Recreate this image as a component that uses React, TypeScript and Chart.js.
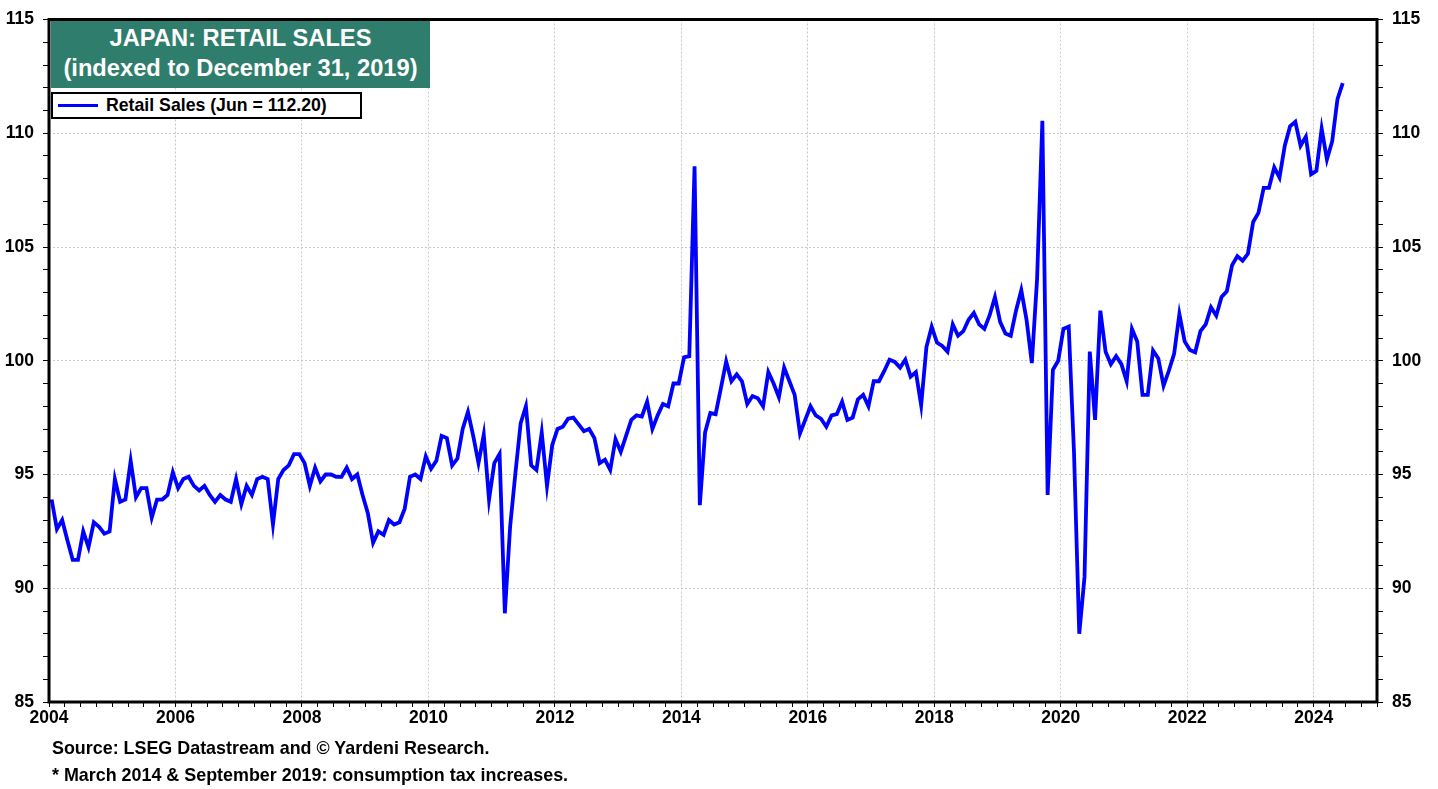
import React, { useEffect, useRef } from "react";
import { Chart, registerables } from "chart.js";

Chart.register(...registerables);

// ---- Data (monthly, Jan 2004 – Jun 2024), index, Dec 31 2019 = 100 ----
const startYear = 2004;
const sales2004 = [93.9, 92.6, 93.0, 92.1, 91.25, 91.25, 92.5, 91.8, 92.9, 92.7, 92.4, 92.5];
const sales2005 = [94.8, 93.8, 93.9, 95.6, 94.0, 94.4, 94.4, 93.1, 93.9, 93.9, 94.1, 95.1];
const sales2006 = [94.4, 94.8, 94.9, 94.5, 94.3, 94.5, 94.1, 93.8, 94.1, 93.9, 93.8, 94.8];
const sales2007 = [93.7, 94.5, 94.1, 94.8, 94.9, 94.8, 92.8, 94.8, 95.2, 95.4, 95.9, 95.9];
const sales2008 = [95.5, 94.5, 95.3, 94.7, 95.0, 95.0, 94.9, 94.9, 95.3, 94.8, 95.0, 94.1];
const sales2009 = [93.3, 92.0, 92.5, 92.35, 93.0, 92.8, 92.9, 93.5, 94.9, 95.0, 94.8, 95.8];
const sales2010 = [95.25, 95.6, 96.7, 96.6, 95.4, 95.7, 97.0, 97.75, 96.7, 95.5, 96.75, 93.9];
const sales2011 = [95.5, 95.9, 88.9, 92.7, 95.05, 97.25, 98.0, 95.4, 95.2, 96.85, 94.5, 96.3];
const sales2012 = [97.0, 97.1, 97.45, 97.5, 97.2, 96.9, 97.0, 96.6, 95.5, 95.65, 95.2, 96.55];
const sales2013 = [96.0, 96.7, 97.4, 97.6, 97.55, 98.2, 97.0, 97.6, 98.1, 98.0, 99.0, 99.0];
const sales2014 = [100.15, 100.2, 108.55, 93.65, 96.85, 97.7, 97.65, 98.8, 99.97, 99.1, 99.4, 99.1];
const sales2015 = [98.1, 98.45, 98.35, 98.0, 99.5, 99.0, 98.4, 99.7, 99.1, 98.5, 96.8, 97.4];
const sales2016 = [98.0, 97.6, 97.45, 97.1, 97.6, 97.65, 98.2, 97.4, 97.5, 98.3, 98.5, 98.0];
const sales2017 = [99.1, 99.1, 99.55, 100.05, 99.95, 99.7, 100.05, 99.3, 99.5, 98.05, 100.6, 101.5];
const sales2018 = [100.8, 100.65, 100.4, 101.6, 101.1, 101.3, 101.8, 102.1, 101.6, 101.4, 102.0, 102.8];
const sales2019 = [101.7, 101.2, 101.1, 102.2, 103.1, 101.8, 99.9, 103.6, 110.55, 94.1, 99.6, 100.0];
const sales2020 = [101.4, 101.5, 96.0, 88.0, 90.5, 100.4, 97.4, 102.2, 100.4, 99.85, 100.2, 99.85];
const sales2021 = [99.1, 101.4, 100.85, 98.5, 98.5, 100.45, 100.1, 98.9, 99.56, 100.3, 102.05, 100.85];
const sales2022 = [100.47, 100.37, 101.3, 101.6, 102.35, 101.98, 102.8, 103.05, 104.2, 104.6, 104.4, 104.7];
const sales2023 = [106.1, 106.5, 107.6, 107.6, 108.5, 108.05, 109.45, 110.3, 110.5, 109.45, 109.85, 108.2];
const sales2024 = [108.35, 110.2, 108.85, 109.65, 111.5, 112.2];

const retailSales = [
  ...sales2004, ...sales2005, ...sales2006, ...sales2007, ...sales2008, ...sales2009,
  ...sales2010, ...sales2011, ...sales2012, ...sales2013, ...sales2014, ...sales2015,
  ...sales2016, ...sales2017, ...sales2018, ...sales2019, ...sales2020, ...sales2021,
  ...sales2022, ...sales2023, ...sales2024,
];

const xMin = 2004;
const xMax = 2025;
const yMin = 85;
const yMax = 115;
const yMajorStep = 5;
const xMajorStep = 2;

const titleLines = ["JAPAN: RETAIL SALES", "(indexed to December 31, 2019)"];
const lastMonthName = "Jun";
const legendLabel = `Retail Sales (${lastMonthName} = ${retailSales[retailSales.length - 1].toFixed(2)})`;
const footnotes = [
  "Source: LSEG Datastream and © Yardeni Research.",
  "* March 2014 & September 2019: consumption tax increases.",
];

const FONT = "'Liberation Sans', Arial, Helvetica, sans-serif";
const LINE_BLUE = "#0000ff";
const TITLE_GREEN = "#2f7d6d";
const GRID_GREY = "#c8c8c8";

const framePlugin = {
  id: "frame",
  afterDraw(chart: any) {
    const { ctx, chartArea } = chart;
    ctx.save();
    ctx.strokeStyle = "#000";
    ctx.lineWidth = 3;
    ctx.strokeRect(chartArea.left, chartArea.top, chartArea.right - chartArea.left, chartArea.bottom - chartArea.top);
    ctx.restore();
  },
};

function yGridColor(ctx: any) {
  const v = ctx.tick ? ctx.tick.value : null;
  if (v == null) return "rgba(0,0,0,0)";
  return v % yMajorStep === 0 && v > yMin && v < yMax ? GRID_GREY : "rgba(0,0,0,0)";
}
function xGridColor(ctx: any) {
  const v = ctx.tick ? ctx.tick.value : null;
  if (v == null) return "rgba(0,0,0,0)";
  return Number.isInteger(v) && v % xMajorStep === 0 && v > xMin && v < xMax ? GRID_GREY : "rgba(0,0,0,0)";
}

export default function App() {
  const canvasRef = useRef<HTMLCanvasElement | null>(null);

  useEffect(() => {
    if (!canvasRef.current) return;
    const tickFont = { family: FONT, size: 17.5, weight: "bold" as const };
    const yTicks = {
      stepSize: 1,
      autoSkip: false,
      color: "#000",
      font: tickFont,
      padding: 9,
      callback: (v: any) => (Number(v) % yMajorStep === 0 ? String(v) : ""),
    };
    const chart = new Chart(canvasRef.current, {
      type: "line",
      data: {
        datasets: [
          {
            label: legendLabel,
            data: retailSales.map((v, i) => ({ x: startYear + (i + 0.5) / 12, y: v })),
            borderColor: LINE_BLUE,
            backgroundColor: LINE_BLUE,
            borderWidth: 3.8,
            pointRadius: 0,
            tension: 0,
            fill: false,
            borderJoinStyle: "miter",
          },
        ],
      },
      options: {
        responsive: false,
        animation: false,
        layout: { padding: { top: 17, left: 0, right: 0, bottom: 0 } },
        plugins: {
          legend: { display: false },
          tooltip: { enabled: false },
          title: { display: false },
        },
        scales: {
          x: {
            type: "linear",
            min: xMin,
            max: xMax,
            ticks: {
              stepSize: 0.25,
              autoSkip: false,
              maxRotation: 0,
              minRotation: 0,
              color: "#000",
              font: tickFont,
              padding: 1,
              callback: (v: any) => {
                const n = Number(v);
                return Number.isInteger(n) && n % xMajorStep === 0 ? String(n) : "";
              },
            },
            grid: {
              color: xGridColor,
              lineWidth: 1,
              tickColor: "#000",
              tickLength: 5,
              tickWidth: 1,
            },
            border: { display: false, dash: [2, 2] },
            afterFit: (s: any) => {
              s.height = 87;
            },
          },
          y: {
            position: "left",
            min: yMin,
            max: yMax,
            ticks: yTicks,
            grid: {
              color: yGridColor,
              lineWidth: 1,
              tickColor: "#000",
              tickLength: 6,
              tickWidth: 1,
            },
            border: { display: false, dash: [2, 2] },
            afterFit: (s: any) => {
              s.width = 49;
            },
          },
          y2: {
            position: "right",
            min: yMin,
            max: yMax,
            ticks: yTicks,
            grid: {
              drawOnChartArea: false,
              tickColor: "#000",
              tickLength: 6,
              tickWidth: 1,
            },
            border: { display: false },
            afterFit: (s: any) => {
              s.width = 61;
            },
          },
        },
      } as any,
      plugins: [framePlugin],
    });
    return () => chart.destroy();
  }, []);

  return (
    <div
      style={{
        position: "absolute",
        left: 0,
        top: 0,
        width: 1438,
        height: 789,
        background: "#fff",
        fontFamily: FONT,
        overflow: "hidden",
      }}
    >
      <canvas ref={canvasRef} width={1438} height={789} style={{ position: "absolute", left: 0, top: 0 }} />
      <div
        style={{
          position: "absolute",
          left: 51,
          top: 21,
          width: 379,
          height: 67,
          boxSizing: "border-box",
          paddingTop: 2,
          background: TITLE_GREEN,
          color: "#fff",
          fontWeight: "bold",
          fontSize: 23.7,
          lineHeight: "30px",
          textAlign: "center",
          whiteSpace: "nowrap",
        }}
      >
        {titleLines.map((t) => (
          <div key={t}>{t}</div>
        ))}
      </div>
      <div
        style={{
          position: "absolute",
          left: 51,
          top: 92,
          width: 311,
          height: 27,
          boxSizing: "border-box",
          border: "2px solid #000",
          background: "#fff",
          display: "flex",
          alignItems: "center",
          whiteSpace: "nowrap",
        }}
      >
        <div style={{ marginLeft: 5, width: 40, height: 3.5, background: LINE_BLUE }} />
        <div style={{ marginLeft: 8, fontWeight: "bold", fontSize: 17.7, color: "#000", lineHeight: "23px" }}>
          {legendLabel}
        </div>
      </div>
      <div
        style={{
          position: "absolute",
          left: 52,
          top: 735,
          fontWeight: "bold",
          fontSize: 17.9,
          lineHeight: "27px",
          color: "#000",
          whiteSpace: "nowrap",
        }}
      >
        {footnotes.map((t) => (
          <div key={t}>{t}</div>
        ))}
      </div>
    </div>
  );
}
